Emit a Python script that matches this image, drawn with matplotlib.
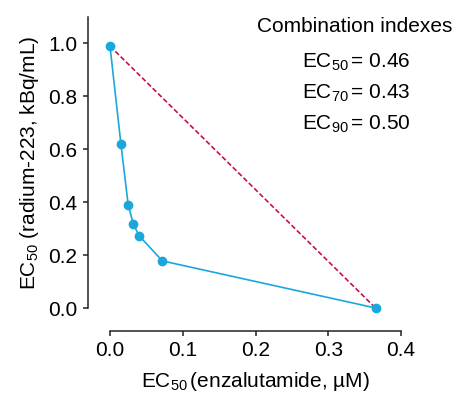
import matplotlib
matplotlib.use('Agg')
import matplotlib.pyplot as plt

plt.rcParams['font.family'] = ['Liberation Sans', 'DejaVu Sans']
plt.rcParams['mathtext.fontset'] = 'custom'
plt.rcParams['mathtext.rm'] = 'Liberation Sans'
plt.rcParams['mathtext.it'] = 'Liberation Sans'
plt.rcParams['mathtext.default'] = 'regular'

# Isobologram data (EC50 values)
enza = [0.0, 0.015, 0.025, 0.032, 0.040, 0.072, 0.365]
radium = [0.99, 0.62, 0.39, 0.318, 0.273, 0.178, 0.0]
additive_x = [0.0, 0.365]
additive_y = [0.99, 0.0]
ci_labels = ['50', '70', '90']
ci_values = [0.46, 0.43, 0.50]

blue = '#1aa8dc'
red = '#c8104a'
fs = 15

fig = plt.figure(figsize=(4.57, 4.0), dpi=100)
ax = fig.add_axes([110/457, 92/400, 291/457, 291/400])

ax.plot(additive_x, additive_y, color=red, lw=1.2, ls=(0, (3, 1.5)), zorder=2, clip_on=False)
ax.plot(enza, radium, color=blue, lw=1.2, marker='o', ms=6, zorder=3, clip_on=False)

ax.set_xlim(0, 0.4)
ax.set_ylim(0, 1.1)
ax.set_xticks([0.0, 0.1, 0.2, 0.3, 0.4])
ax.set_yticks([0.0, 0.2, 0.4, 0.6, 0.8, 1.0])
ax.set_xticklabels(['0.0', '0.1', '0.2', '0.3', '0.4'])
ax.set_yticklabels(['0.0', '0.2', '0.4', '0.6', '0.8', '1.0'])

for s in ['top', 'right']:
    ax.spines[s].set_visible(False)
ax.spines['left'].set_position(('outward', 16))
ax.spines['bottom'].set_position(('outward', 16.5))
for s in ['left', 'bottom']:
    ax.spines[s].set_linewidth(1.1)
    ax.spines[s].set_color('#222222')
ax.tick_params(length=3.5, width=1.1, color='#222222', labelsize=fs, pad=4)

ax.set_xlabel('EC$_{50}\\,$(enzalutamide, \u00b5M)', fontsize=fs, labelpad=7)
ax.set_ylabel('EC$_{50}$ (radium-223, kBq/mL)', fontsize=fs, labelpad=5)

fig.text(355/457, 1 - 27/400, 'Combination indexes', fontsize=fs, ha='center', va='center')
for i, (lab, val) in enumerate(zip(ci_labels, ci_values)):
    fig.text(356/457, 1 - (62 + 31*i)/400, 'EC$_{%s}\\,$= %.2f' % (lab, val),
             fontsize=fs, ha='center', va='center')

fig.savefig('out.png', dpi=100)
